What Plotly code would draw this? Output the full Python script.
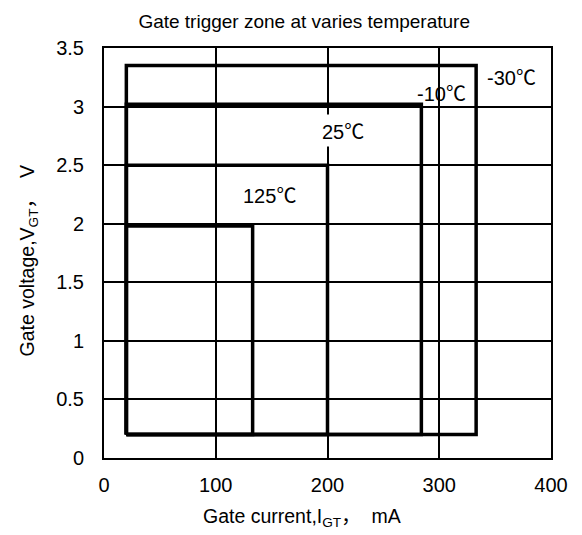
import plotly.graph_objects as go

temps = ["125", "25", "-10", "-30"]
i_min = [20, 20, 20, 20]
i_max = [133, 200, 284, 333]
v_min = [0.2, 0.2, 0.2, 0.2]
v_max = [1.98, 2.5, 3.02, 3.35]
label_x = [148, 214, 302, 365]
label_y = [2.25, 2.8, 3.12, 3.26]

x_ticks = [0, 100, 200, 300, 400]
y_ticks = [0, 0.5, 1, 1.5, 2, 2.5, 3, 3.5]

FONT = "Liberation Sans, Arial, Noto Sans CJK SC, sans-serif"
CJK = '<span style="font-family:Noto Sans CJK SC">'
fig = go.Figure()
for t, x0, x1, y0, y1 in zip(temps, i_min, i_max, v_min, v_max):
    fig.add_trace(go.Scatter(
        x=[x0, x1, x1, x0, x0], y=[y0, y0, y1, y1, y0],
        mode="lines", line=dict(color="black", width=3.5),
        name=t + "℃", showlegend=False, hoverinfo="skip"))

for t, lx, ly in zip(temps, label_x, label_y):
    fig.add_annotation(x=lx, y=ly, text=t + CJK + "℃</span>", showarrow=False,
                       font=dict(family=FONT, size=20, color="black"),
                       bgcolor="white" if t == "25" else "rgba(0,0,0,0)")

fig.add_annotation(xref="paper", yref="paper", x=0.443, y=-0.139,
                   xanchor="center", yanchor="middle", showarrow=False,
                   text="Gate current,I<sub>GT</sub>" + CJK + "，</span>  mA",
                   font=dict(family=FONT, size=19.5, color="black"))
fig.add_annotation(xref="paper", yref="paper", x=-0.174, y=0.48,
                   xanchor="center", yanchor="middle", showarrow=False,
                   textangle=-90,
                   text="Gate voltage,V<sub>GT</sub>" + CJK + "，</span>  V",
                   font=dict(family=FONT, size=19.5, color="black"))

fig.update_layout(
    width=574, height=527,
    margin=dict(l=96, r=31, t=40, b=77),
    paper_bgcolor="white", plot_bgcolor="white",
    font=dict(family=FONT, size=20, color="black"),
    title=dict(text="Gate trigger zone at varies temperature",
               x=0.516, xanchor="center", y=0.975, yanchor="middle",
               font=dict(family=FONT, size=19, color="black")),
)
fig.update_xaxes(range=[0, 400], tickvals=x_ticks, showgrid=True,
                 gridcolor="black", gridwidth=1.5, zeroline=False,
                 showline=True, linecolor="black", linewidth=2, mirror=True,
                 ticks="", ticklabelstandoff=8)
fig.update_yaxes(range=[0, 3.5], tickvals=y_ticks, showgrid=True,
                 gridcolor="black", gridwidth=1.5, zeroline=False,
                 showline=True, linecolor="black", linewidth=2, mirror=True,
                 ticks="", ticklabelstandoff=14)

fig.write_html("out.html")
